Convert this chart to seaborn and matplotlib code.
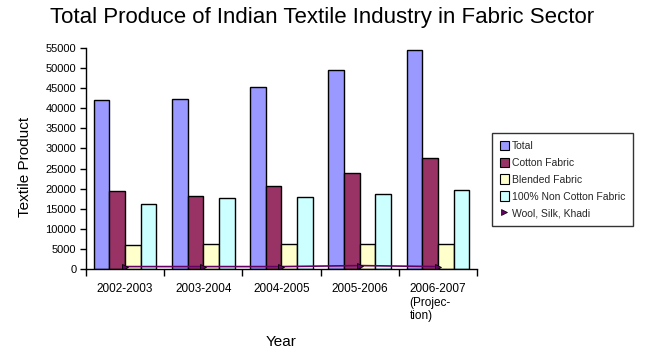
import numpy as np
import pandas as pd
import matplotlib
matplotlib.use("Agg")
import matplotlib.pyplot as plt
import seaborn as sns
from matplotlib.patches import Patch
from matplotlib.lines import Line2D

# Data
years = ["2002-2003", "2003-2004", "2004-2005", "2005-2006", "2006-2007\n(Projec-\ntion)"]
total = [42100, 42400, 45400, 49600, 54400]
cotton = [19400, 18200, 20700, 23900, 27600]
blended = [5900, 6200, 6200, 6200, 6200]
non_cotton = [16200, 17700, 17900, 18700, 19600]
wool = [600, 600, 600, 850, 600]

series = ["Total", "Cotton Fabric", "Blended Fabric", "100% Non Cotton Fabric"]
colors = ["#9999FF", "#993366", "#FFFFCC", "#CCFFFF"]
line_name = "Wool, Silk, Khadi"
line_color = "#660066"

df = pd.DataFrame({"Year": years, series[0]: total, series[1]: cotton,
                   series[2]: blended, series[3]: non_cotton})
long = df.melt(id_vars="Year", var_name="Fabric", value_name="Value")

sns.set_theme(style="white")
plt.rcParams['font.family'] = ['Liberation Sans', 'DejaVu Sans']

fig = plt.figure(figsize=(6.45, 3.59), dpi=100)
ax = fig.add_axes([0.1333, 0.2507, 0.6062, 0.6156])

sns.barplot(data=long, x="Year", y="Value", hue="Fabric", hue_order=series,
            palette=colors, edgecolor="black", linewidth=1, width=0.8,
            saturation=1, legend=False, ax=ax)

# line series on the same categorical positions
sns.lineplot(x=np.arange(len(years)), y=wool, color=line_color, linewidth=1.2,
             marker=">", markersize=5, markerfacecolor=line_color,
             markeredgecolor="black", markeredgewidth=0.6, ax=ax)

ax.set_xlim(-0.5, len(years) - 0.5)
ax.set_ylim(0, 55000)
ax.set_yticks(np.arange(0, 55001, 5000))
ax.set_xticks(np.arange(len(years)))
ax.set_xticklabels(years, multialignment="left")
ax.set_xticks(np.arange(-0.5, len(years)), minor=True)
ax.tick_params(axis="x", which="major", bottom=True, length=0, labelsize=8.5, pad=10)
ax.tick_params(axis="x", which="minor", bottom=True, length=5, width=1, color="black", direction="out")
ax.tick_params(axis="y", left=True, length=4, width=1, color="black", direction="out", labelsize=8, pad=3)
for lbl in ax.get_xticklabels() + ax.get_yticklabels():
    lbl.set_color("black")

for side in ["top", "right"]:
    ax.spines[side].set_visible(False)
for side in ["left", "bottom"]:
    ax.spines[side].set_color("black")
    ax.spines[side].set_linewidth(1)

ax.set_xlabel("Year", fontsize=11, color="black", labelpad=9)
ax.set_ylabel("Textile Product", fontsize=11, color="black")
ax.yaxis.set_label_coords(-0.138, 0.46)
fig.suptitle("Total Produce of Indian Textile Industry in Fabric Sector",
             fontsize=16, x=0.5, y=0.98, va="top", color="black")

handles = [Patch(facecolor=c, edgecolor="black", linewidth=0.8) for c in colors]
handles.append(Line2D([], [], linestyle="none", marker=">", markersize=4,
                      markerfacecolor=line_color, markeredgecolor="black", markeredgewidth=0.5))
leg = fig.legend(handles, series + [line_name], loc="upper left",
                 bbox_to_anchor=(492 / 645, 1 - 133 / 359), fontsize=7.5,
                 frameon=True, fancybox=False, edgecolor="black",
                 handlelength=0.85, handleheight=1.05, handletextpad=0.3,
                 labelspacing=0.62, borderpad=0.75, borderaxespad=0)
leg.get_frame().set_linewidth(1)

fig.savefig("out.png", dpi=100, facecolor="white")
